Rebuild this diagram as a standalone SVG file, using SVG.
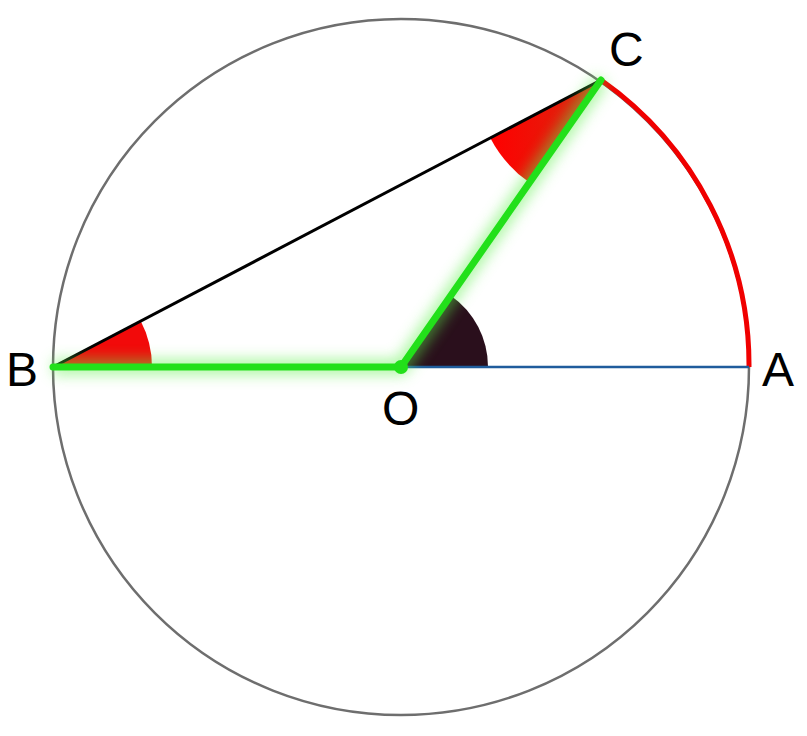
<svg xmlns="http://www.w3.org/2000/svg" width="807" height="736" viewBox="0 0 807 736">
<defs>
<style>
.lbl{font-family:"Liberation Sans",Arial,sans-serif;font-size:48px;fill:#000}
.green{stroke:#22e01a;stroke-width:7;stroke-linecap:round;fill:none}
</style>
<filter id="glow" x="-20%" y="-20%" width="140%" height="140%">
<feGaussianBlur stdDeviation="7"/>
</filter>
<linearGradient id="rg" x1="0" y1="0" x2="1" y2="0">
<stop offset="0" stop-color="#ff0000"/>
<stop offset="1" stop-color="#d82a10"/>
</linearGradient>
</defs>
<rect width="807" height="736" fill="#fff"/>
<g id="circle">
<circle cx="401" cy="367" r="348" fill="none" stroke="#6e6e6e" stroke-width="2.5"/>
</g>
<g id="angles">
<path id="angleC" d="M601,80 L490.3,138 A125,125 0 0,0 529.5,182.6 Z" fill="url(#rg)"/>
<path id="angleB" d="M53,367 L152,367 A99,99 0 0,0 140.7,321.1 Z" fill="#f20a0a"/>
<path id="angleO" d="M401,367 L488,367 A87,87 0 0,0 450.9,295.7 Z" fill="#2a0f1c"/>
</g>
<g id="connectors">
<path id="arcAC" d="M749,367 A348,348 0 0,0 601,80" fill="none" stroke="#f00000" stroke-width="5"/>
<line id="OA" x1="401" y1="367" x2="749" y2="367" stroke="#1f5c9c" stroke-width="2.5"/>
<line id="BC" x1="53" y1="367" x2="601" y2="80" stroke="#000" stroke-width="3"/>
<g filter="url(#glow)" opacity="0.5">
<path d="M53,367 L401,367 L601,80" stroke="#5bf04a" stroke-width="16" fill="none"/>
</g>
<path class="green" d="M53,367 L401,367 L601,80"/>
<circle cx="401" cy="367" r="7" fill="#22e01a"/>
</g>
<g id="labels">
<text id="lA" class="lbl" x="762" y="386">A</text>
<text id="lB" class="lbl" x="6" y="386">B</text>
<text id="lC" class="lbl" x="609" y="66">C</text>
<text id="lO" class="lbl" x="382" y="425">O</text>
</g>
</svg>
